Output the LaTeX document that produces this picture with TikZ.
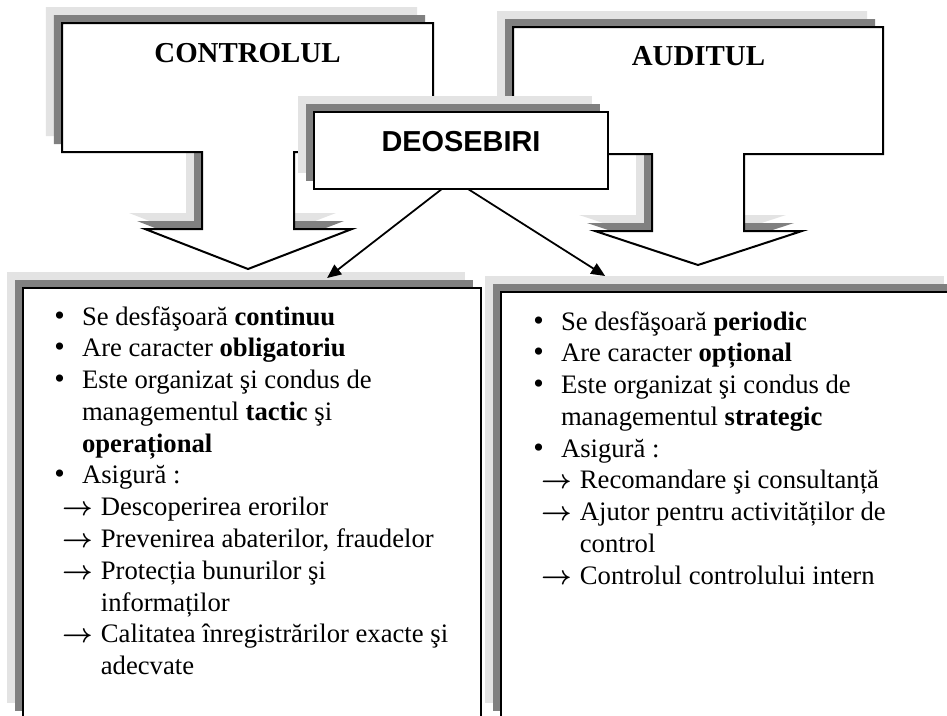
\documentclass[tikz,border=0pt]{standalone}
\usepackage{fontspec}
\setmainfont{Liberation Serif}
\newfontfamily\arialfont{Liberation Sans}
\usetikzlibrary{shadows,arrows.meta,calc}

\definecolor{shadelight}{gray}{0.89}
\definecolor{shadedark}{gray}{0.5}

% list line starts
\newcommand{\bul}{\makebox[12.4pt][l]{\fontsize{13.5}{13.5}\selectfont\textbullet}}
\newcommand{\bulcont}{\hspace*{12.4pt}}
\newcommand{\arr}{\hspace*{3.5pt}\makebox[17.4pt][l]{\boldmath$\rightarrow$}}
\newcommand{\arrcont}{\hspace*{20.9pt}}

\tikzset{
  shaded/.style={general shadow={draw=none,fill=shadelight,shadow xshift=-7.2pt,shadow yshift=7.2pt},
                 general shadow={draw=none,fill=shadedark,shadow xshift=-3.6pt,shadow yshift=3.6pt},
                 draw, fill=white, line width=0.9pt, outer sep=0pt},
  heading/.style={font=\fontsize{13}{15}\selectfont\bfseries, inner sep=0pt},
  listtext/.style={anchor=base west, text width=190pt, align=flush left, inner sep=0pt,
                   font=\fontsize{12}{14.3}\selectfont},
  link/.style={line width=0.8pt, -{Triangle[length=6.3pt,width=5.4pt]}}
}

\begin{document}
\begin{tikzpicture}[x=0.45pt,y=-0.45pt]
  \useasboundingbox (0,0) rectangle (947,715);
  \clip (0,0) rectangle (947,715);

  %callouts
  \draw[shaded] (62,23) -- (433,23) -- (433,152) -- (294,152) -- (294,229) -- (352,229) -- (248,269)
    -- (145,229) -- (202,229) -- (202,152) -- (62,152) -- cycle;
  \node[heading] (ctrl) at (247.5,53) {CONTROLUL};

  \draw[shaded] (513,27) -- (883,27) -- (883,154) -- (744,154) -- (744,231) -- (802,231) -- (698,265)
    -- (595,231) -- (652,231) -- (652,154) -- (513,154) -- cycle;
  \node[heading] (aud) at (698.5,56) {AUDITUL};

  \node[shaded, minimum width=132.3pt, minimum height=34.65pt, inner sep=0pt,
        font=\arialfont\fontsize{13}{15}\selectfont\bfseries, text height=9.3pt, text depth=8.6pt] (deos) at (461,150.5) {DEOSEBIRI};

  %lower boxes
  \node[shaded, anchor=north west, minimum width=206.1pt, minimum height=194pt, inner sep=0pt] (ctrlbox) at (23,288) {};
  \node[shaded, anchor=north west, minimum width=206.55pt, minimum height=192.2pt, inner sep=0pt] (audbox) at (501,292) {};

  \draw[link] ($(deos.south west)!0.435!(deos.south east)$) -- ($(ctrlbox.north west)!0.664!(ctrlbox.north east)+(0,-10)$);
  \draw[link] ($(deos.south west)!0.524!(deos.south east)$) -- ($(audbox.north west)!0.227!(audbox.north east)+(0,-16)$);

  \node[listtext] (ctrltext) at (54,325) {\bul Se desfăşoară \textbf{continuu}\\
    \bul Are caracter \textbf{obligatoriu}\\
    \bul Este organizat şi condus de\\
    \bulcont managementul \textbf{tactic} şi\\
    \bulcont\textbf{operațional}\\
    \bul Asigură :\\
    \arr Descoperirea erorilor\\
    \arr Prevenirea abaterilor, fraudelor\\
    \arr Protecția bunurilor şi\\
    \arrcont informaților\\
    \arr Calitatea înregistrărilor exacte şi\\
    \arrcont adecvate};

  \node[listtext] (audtext) at (533,330) {\bul Se desfăşoară \textbf{periodic}\\
    \bul Are caracter \textbf{opțional}\\
    \bul Este organizat şi condus de\\
    \bulcont managementul \textbf{strategic}\\
    \bul Asigură :\\
    \arr Recomandare şi consultanță\\
    \arr Ajutor pentru activităților de\\
    \arrcont control\\
    \arr Controlul controlului intern};
\end{tikzpicture}
\end{document}
